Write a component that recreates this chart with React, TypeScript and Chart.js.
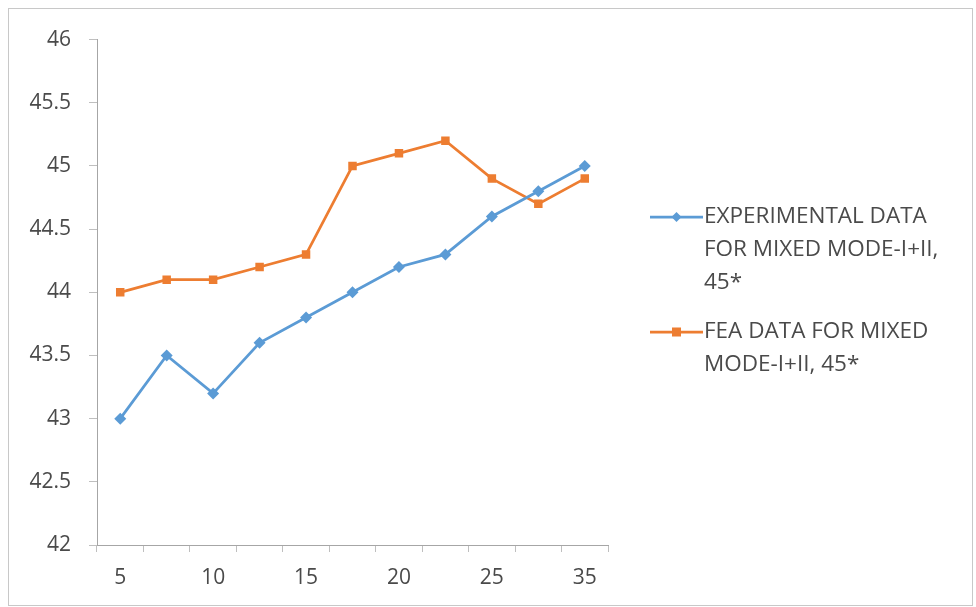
import React, { useEffect, useRef } from "react";
import { Chart, registerables } from "chart.js";

Chart.register(...registerables);

const categories = ["5", "7.5", "10", "12.5", "15", "17.5", "20", "22.5", "25", "30", "35"];
const experimental = [43.0, 43.5, 43.2, 43.6, 43.8, 44.0, 44.2, 44.3, 44.6, 44.8, 45.0];
const fea = [44.0, 44.1, 44.1, 44.2, 44.3, 45.0, 45.1, 45.2, 44.9, 44.7, 44.9];
const seriesNames = [
  ["EXPERIMENTAL DATA", "FOR MIXED MODE-I+II,", "45*"],
  ["FEA DATA FOR MIXED", "MODE-I+II, 45*"],
];
const BLUE = "#5b9bd5";
const ORANGE = "#ed7d31";
const TEXT = "#4a4a4a";
const FONT = "'Open Sans', 'Liberation Sans', sans-serif";

const legendPlugin = {
  id: "sideLegend",
  afterDraw(chart: any) {
    const ctx = chart.ctx;
    const ds = chart.data.datasets;
    const x0 = 641;
    const lineLen = 53;
    const lh = 33;
    let y = 208;
    ctx.save();
    ds.forEach((d: any, i: number) => {
      ctx.strokeStyle = d.borderColor;
      ctx.lineWidth = 2.75;
      ctx.beginPath();
      ctx.moveTo(x0, y);
      ctx.lineTo(x0 + lineLen, y);
      ctx.stroke();
      ctx.fillStyle = d.borderColor;
      const cx = x0 + lineLen / 2;
      if (d.pointStyle === "rectRot") {
        ctx.beginPath();
        ctx.moveTo(cx, y - 5);
        ctx.lineTo(cx + 5, y);
        ctx.lineTo(cx, y + 5);
        ctx.lineTo(cx - 5, y);
        ctx.closePath();
        ctx.fill();
      } else {
        ctx.fillRect(cx - 4.5, y - 4.5, 9, 9);
      }
      ctx.fillStyle = TEXT;
      ctx.font = `22.5px ${FONT}`;
      ctx.textBaseline = "middle";
      ctx.textAlign = "left";
      seriesNames[i].forEach((t, k) => {
        ctx.fillText(t, x0 + lineLen + 1, y + k * lh);
      });
      y += seriesNames[i].length * lh + 16;
    });
    ctx.restore();
  },
};

export default function App() {
  const ref = useRef<HTMLCanvasElement>(null);
  useEffect(() => {
    if (!ref.current) return;
    const chart = new Chart(ref.current, {
      type: "line",
      data: {
        labels: categories,
        datasets: [
          {
            label: seriesNames[0].join(" "),
            data: experimental,
            borderColor: BLUE,
            backgroundColor: BLUE,
            borderWidth: 2.75,
            pointStyle: "rectRot",
            pointRadius: 6,
            pointBorderWidth: 0,
            tension: 0,
          },
          {
            label: seriesNames[1].join(" "),
            data: fea,
            borderColor: ORANGE,
            backgroundColor: ORANGE,
            borderWidth: 2.75,
            pointStyle: "rect",
            pointRadius: 6,
            pointBorderWidth: 0,
            tension: 0,
          },
        ],
      },
      options: {
        animation: false,
        responsive: false,
        layout: { padding: { left: 0, top: 29, right: 364, bottom: 10 } },
        plugins: { legend: { display: false }, tooltip: { enabled: false } },
        scales: {
          x: {
            type: "category",
            offset: true,
            grid: {
              offset: true,
              drawOnChartArea: false,
              drawTicks: true,
              tickLength: 7,
              color: "#bfbfbf",
            },
            border: { color: "#a6a6a6", width: 1 },
            ticks: {
              autoSkip: false,
              maxRotation: 0,
              color: TEXT,
              font: { family: FONT, size: 21 },
              padding: 13,
              callback: (_v: any, i: number) => (i % 2 === 0 ? categories[i] : ""),
            },
            afterFit: (s: any) => {
              s.height = 50;
            },
          },
          y: {
            min: 42,
            max: 46,
            grid: {
              drawOnChartArea: false,
              drawTicks: true,
              tickLength: 8,
              color: "#bfbfbf",
            },
            border: { color: "#a6a6a6", width: 1 },
            ticks: {
              stepSize: 0.5,
              color: TEXT,
              font: { family: FONT, size: 21 },
              padding: 18,
              callback: (v: any) => String(v),
            },
            afterFit: (s: any) => {
              s.width = 88;
            },
          },
        },
      },
      plugins: [legendPlugin],
    });
    return () => chart.destroy();
  }, []);
  return (
    <div
      style={{
        position: "absolute",
        left: 8,
        top: 8,
        width: 965,
        height: 598,
        border: "1px solid #c8c8c8",
        boxSizing: "border-box",
        background: "#fff",
      }}
    >
      <canvas ref={ref} width={963} height={596} style={{ display: "block" }} />
    </div>
  );
}
